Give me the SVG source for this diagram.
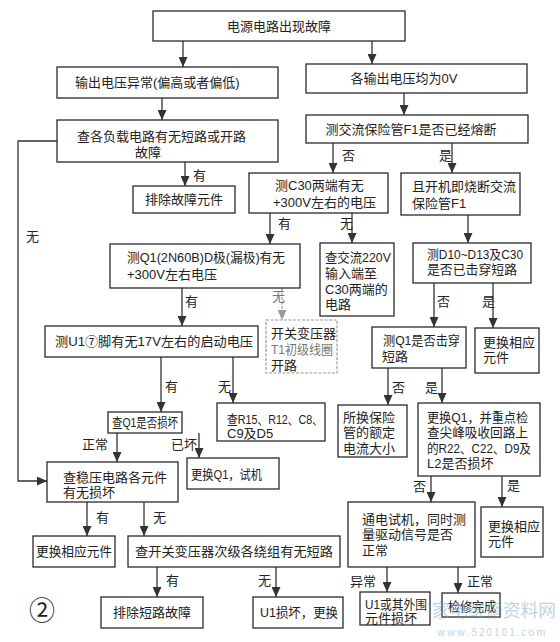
<svg xmlns="http://www.w3.org/2000/svg" width="560" height="642" viewBox="0 0 560 642">
<style>
.b{fill:#fff;stroke:#2a2a2a;stroke-width:1.3}
.f{fill:#fff;stroke:#9a9a9a;stroke-width:1.2;stroke-dasharray:3 1.5}
.t{font-family:"Liberation Sans","Noto Sans CJK SC",sans-serif;font-size:13px;fill:#222}
.m{text-anchor:middle}
.l{font-family:"Liberation Sans","Noto Sans CJK SC",sans-serif;font-size:13px;fill:#222}
.c{stroke:#333;stroke-width:1.3;fill:none;marker-end:url(#a)}
.cf{stroke:#999;stroke-width:1.2;fill:none;stroke-dasharray:3 1.5;marker-end:url(#af)}
.g{fill:#777}
</style>
<defs>
<marker id="a" markerUnits="userSpaceOnUse" markerWidth="10" markerHeight="9" refX="10" refY="4.5" orient="auto"><path d="M0,0 L10,4.5 L0,9 z" fill="#333"/></marker>
<marker id="af" markerUnits="userSpaceOnUse" markerWidth="10" markerHeight="9" refX="10" refY="4.5" orient="auto"><path d="M0,0 L10,4.5 L0,9 z" fill="#999"/></marker>
</defs>
<rect width="560" height="642" fill="#fff"/>
<g id="connectors">
<path class="c" d="M183,41V67"/>
<path class="c" d="M372,41V64"/>
<path class="c" d="M162,98V120"/>
<path class="c" d="M404,93V115"/>
<path class="c" d="M185,162V186"/>
<path class="c" d="M333,143V173"/>
<path class="c" d="M452,143V173"/>
<path class="c" d="M270,213V244"/>
<path class="c" d="M352,213V243"/>
<path class="c" d="M468,215V243"/>
<path class="c" d="M182,288V326"/>
<path class="cf" d="M282,288V320"/>
<path class="c" d="M434,283V327"/>
<path class="c" d="M493,283V328"/>
<path class="c" d="M161,357V412"/>
<path class="c" d="M233,357V403"/>
<path class="c" d="M388,368V405"/>
<path class="c" d="M442,368V403"/>
<path class="c" d="M117,433V462"/>
<path class="c" d="M199,433V458"/>
<path class="c" d="M57,141H18V481H47"/>
<path class="c" d="M87,502V536"/>
<path class="c" d="M144,502V536"/>
<path class="c" d="M157,567V597"/>
<path class="c" d="M276,567V597"/>
<path class="c" d="M431,476V502"/>
<path class="c" d="M502,476V507"/>
<path class="c" d="M387,567V592"/>
<path class="c" d="M458,567V593"/>
<g class="l">
<text x="193" y="180">有</text>
<text x="342" y="160">否</text>
<text x="439" y="160">是</text>
<text x="278" y="228">有</text>
<text x="340" y="228">无</text>
<text x="185" y="306">有</text>
<text x="272" y="301" class="g">无</text>
<text x="437" y="306">否</text>
<text x="482" y="306">是</text>
<text x="165" y="391">有</text>
<text x="218" y="391">无</text>
<text x="392" y="392">否</text>
<text x="425" y="392">是</text>
<text x="82" y="449">正常</text>
<text x="171" y="449">已坏</text>
<text x="26" y="241">无</text>
<text x="96" y="522">有</text>
<text x="153" y="522">无</text>
<text x="166" y="585">有</text>
<text x="258" y="585">无</text>
<text x="413" y="491">否</text>
<text x="507" y="490">是</text>
<text x="350" y="586">异常</text>
<text x="467" y="586">正常</text>
</g>
</g>
<g id="n1"><rect class="b" x="153" y="11" width="252" height="30"/><text class="t m" x="279" y="31">电源电路出现故障</text></g>
<g id="n2"><rect class="b" x="57" y="67" width="221" height="31"/><text class="t" x="75" y="87">输出电压异常(偏高或者偏低)</text></g>
<g id="n3"><rect class="b" x="306" y="64" width="221" height="29"/><text class="t m" x="404" y="83">各输出电压均为0V</text></g>
<g id="n4"><rect class="b" x="57" y="120" width="221" height="42"/><text class="t" x="77" y="141">查各负载电路有无短路或开路</text><text class="t m" x="148" y="157">故障</text></g>
<g id="n5"><rect class="b" x="306" y="115" width="222" height="28"/><text class="t m" x="411" y="134">测交流保险管F1是否已经熔断</text></g>
<g id="n6"><rect class="b" x="133" y="186" width="102" height="27"/><text class="t m" x="184" y="204">排除故障元件</text></g>
<g id="n7"><rect class="b" x="249" y="173" width="139" height="40"/><text class="t" x="275" y="190">测C30两端有无</text><text class="t" x="273" y="207">+300V左右的电压</text></g>
<g id="n8"><rect class="b" x="401" y="173" width="119" height="42"/><text class="t" x="412" y="191">且开机即烧断交流</text><text class="t" x="412" y="208">保险管F1</text></g>
<g id="n9"><rect class="b" x="110" y="244" width="190" height="44"/><text class="t" x="127" y="262" textLength="158" lengthAdjust="spacingAndGlyphs">测Q1(2N60B)D极(漏极)有无</text><text class="t" x="127" y="279">+300V左右电压</text></g>
<g id="n10"><rect class="b" x="320" y="243" width="74" height="73"/><text class="t" x="325" y="262" textLength="66" lengthAdjust="spacingAndGlyphs">查交流220V</text><text class="t" x="325" y="278">输入端至</text><text class="t" x="325" y="294">C30两端的</text><text class="t" x="325" y="309">电路</text></g>
<g id="n11"><rect class="b" x="413" y="243" width="118" height="40"/><text class="t" x="427" y="259" textLength="96" lengthAdjust="spacingAndGlyphs">测D10~D13及C30</text><text class="t" x="427" y="274" textLength="90" lengthAdjust="spacingAndGlyphs">是否已击穿短路</text></g>
<g id="n12"><rect class="b" x="45" y="326" width="213" height="31"/><text class="t" x="55" y="346" textLength="198" lengthAdjust="spacingAndGlyphs">测U1⑦脚有无17V左右的启动电压</text></g>
<g id="n13"><rect class="f" x="266" y="320" width="71" height="53"/><text class="t" x="271" y="338">开关变压器</text><text class="t g" x="271" y="354" textLength="62" lengthAdjust="spacingAndGlyphs">T1初级线圈</text><text class="t" x="271" y="370">开路</text></g>
<g id="n14"><rect class="b" x="372" y="327" width="94" height="41"/><text class="t" x="383" y="345" textLength="77" lengthAdjust="spacingAndGlyphs">测Q1是否击穿</text><text class="t" x="382" y="361">短路</text></g>
<g id="n15"><rect class="b" x="475" y="328" width="64" height="45"/><text class="t" x="483" y="347">更换相应</text><text class="t" x="483" y="362">元件</text></g>
<g id="n16"><rect class="b" x="108" y="412" width="74" height="21"/><text class="t m" x="145" y="427" textLength="66" lengthAdjust="spacingAndGlyphs">查Q1是否损坏</text></g>
<g id="n17"><rect class="b" x="217" y="403" width="108" height="38"/><text class="t" x="227" y="424" textLength="96" lengthAdjust="spacingAndGlyphs">查R15、R12、C8、</text><text class="t" x="227" y="438">C9及D5</text></g>
<g id="n18"><rect class="b" x="338" y="405" width="69" height="52"/><text class="t" x="343" y="422">所换保险</text><text class="t" x="343" y="437">管的额定</text><text class="t" x="343" y="453">电流大小</text></g>
<g id="n19"><rect class="b" x="418" y="403" width="122" height="73"/><text class="t" x="427" y="422" textLength="101" lengthAdjust="spacingAndGlyphs">更换Q1，并重点检</text><text class="t" x="427" y="437" textLength="101" lengthAdjust="spacingAndGlyphs">查尖峰吸收回路上</text><text class="t" x="427" y="453" textLength="104" lengthAdjust="spacingAndGlyphs">的R22、C22、D9及</text><text class="t" x="427" y="468">L2是否损坏</text></g>
<g id="n20"><rect class="b" x="47" y="462" width="131" height="40"/><text class="t" x="63" y="482">查稳压电路各元件</text><text class="t" x="63" y="497">有无损坏</text></g>
<g id="n21"><rect class="b" x="187" y="458" width="92" height="31"/><text class="t" x="191" y="479" textLength="71" lengthAdjust="spacingAndGlyphs">更换Q1，试机</text></g>
<g id="n22"><rect class="b" x="33" y="536" width="82" height="31"/><text class="t" x="36" y="556" textLength="76" lengthAdjust="spacingAndGlyphs">更换相应元件</text></g>
<g id="n23"><rect class="b" x="128" y="536" width="212" height="31"/><text class="t" x="135" y="556" textLength="198" lengthAdjust="spacingAndGlyphs">查开关变压器次级各绕组有无短路</text></g>
<g id="n24"><rect class="b" x="101" y="597" width="102" height="31"/><text class="t m" x="152" y="617">排除短路故障</text></g>
<g id="n25"><rect class="b" x="253" y="597" width="90" height="31"/><text class="t" x="260" y="617" textLength="78" lengthAdjust="spacingAndGlyphs">U1损坏，更换</text></g>
<g id="n26"><rect class="b" x="348" y="502" width="127" height="65"/><text class="t" x="362" y="524" textLength="104" lengthAdjust="spacingAndGlyphs">通电试机，同时测</text><text class="t" x="362" y="539">量驱动信号是否</text><text class="t" x="362" y="555">正常</text></g>
<g id="n27"><rect class="b" x="481" y="507" width="62" height="50"/><text class="t" x="488" y="531">更换相应</text><text class="t" x="488" y="546">元件</text></g>
<g id="n28"><rect class="b" x="360" y="592" width="70" height="33"/><text class="t" x="365" y="609" textLength="62" lengthAdjust="spacingAndGlyphs">U1或其外围</text><text class="t" x="365" y="623">元件损坏</text></g>
<g id="n29"><rect class="b" x="442" y="593" width="58" height="24"/><text class="t" x="448" y="611" textLength="48" lengthAdjust="spacingAndGlyphs">检修完成</text></g>
<text x="42" y="620" text-anchor="middle" style="font-family:'DejaVu Serif','Noto Sans CJK SC',serif;font-size:26px;fill:#222">②</text>
<g opacity="0.45" style="font-family:'Noto Sans CJK SC',sans-serif;fill:#6fa3bd">
<text x="432" y="617" style="font-size:18px" textLength="124" lengthAdjust="spacingAndGlyphs">家电维修资料网</text>
<text x="437" y="636" style="font-size:10px;letter-spacing:2px">www.520101.com</text>
</g>
</svg>
